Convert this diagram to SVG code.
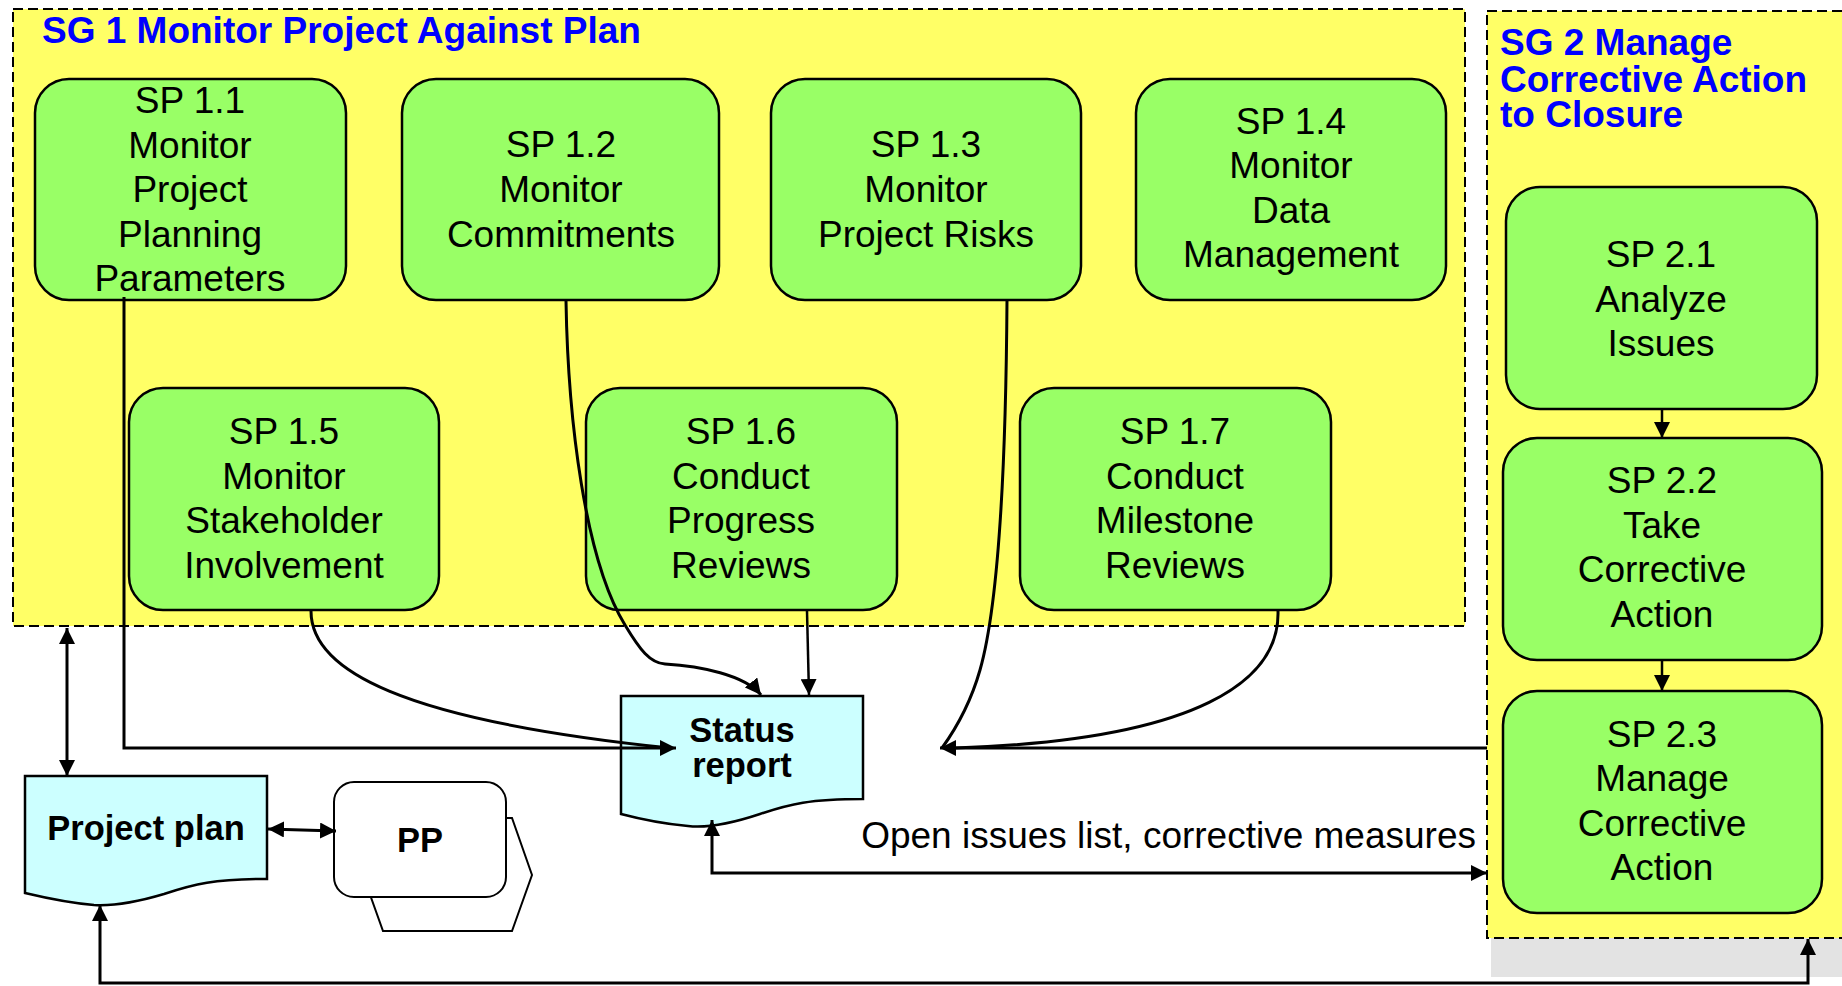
<svg xmlns="http://www.w3.org/2000/svg" width="1842" height="986" viewBox="0 0 1842 986">
  <style>
    .goal { fill: #FFFF66; stroke: #000; stroke-width: 2; stroke-dasharray: 10 5; }
    .goal-title { font-family: "Liberation Sans", Arial, sans-serif; font-weight: bold; font-size: 37px; fill: #0000FF; }
    .sp { fill: #99FF66; stroke: #000; stroke-width: 2.5; }
    .sp-text { font-family: "Liberation Sans", Arial, sans-serif; font-size: 37px; fill: #000; text-anchor: middle; }
    .doc { fill: #CCFFFF; stroke: #000; stroke-width: 2.5; }
    .doc-text { font-family: "Liberation Sans", Arial, sans-serif; font-weight: bold; font-size: 34.5px; fill: #000; text-anchor: middle; }
    .plain { fill: #FFFFFF; stroke: #000; stroke-width: 2; }
    .label { font-family: "Liberation Sans", Arial, sans-serif; font-size: 37px; fill: #000; }
    .conn { fill: none; stroke: #000; stroke-width: 3; }
    .conn-thin { fill: none; stroke: #000; stroke-width: 2.5; }
  </style>
  <defs>
    <marker id="ah" viewBox="0 0 16 16" refX="16" refY="8" markerWidth="16" markerHeight="16" markerUnits="userSpaceOnUse" orient="auto-start-reverse">
      <path d="M0,0 L16,8 L0,16 Z" fill="#000"/>
    </marker>
  </defs>

  <rect width="1842" height="986" fill="#FFFFFF"/>

  <!-- Goal 1 container -->
  <g id="sg1">
    <rect class="goal" x="13" y="9" width="1452" height="617"/>
    <text class="goal-title" x="42" y="43">SG 1 Monitor Project Against Plan</text>
  </g>

  <!-- Goal 2 container with its drop shadow -->
  <g id="sg2">
    <rect x="1491" y="938" width="351" height="39" fill="#E3E3E3"/>
    <rect class="goal" x="1487" y="11" width="370" height="927"/>
    <text class="goal-title" x="1500" y="55">SG 2 Manage</text>
    <text class="goal-title" x="1500" y="92">Corrective Action</text>
    <text class="goal-title" x="1500" y="127">to Closure</text>
  </g>

  <!-- Specific practices of goal 1 -->
  <g id="sp11">
    <rect class="sp" x="35" y="79" width="311" height="221" rx="34"/>
    <text class="sp-text" x="190" y="113">SP 1.1</text>
    <text class="sp-text" x="190" y="158">Monitor</text>
    <text class="sp-text" x="190" y="202">Project</text>
    <text class="sp-text" x="190" y="247">Planning</text>
    <text class="sp-text" x="190" y="291">Parameters</text>
  </g>
  <g id="sp12">
    <rect class="sp" x="402" y="79" width="317" height="221" rx="34"/>
    <text class="sp-text" x="561" y="157">SP 1.2</text>
    <text class="sp-text" x="561" y="202">Monitor</text>
    <text class="sp-text" x="561" y="247">Commitments</text>
  </g>
  <g id="sp13">
    <rect class="sp" x="771" y="79" width="310" height="221" rx="34"/>
    <text class="sp-text" x="926" y="157">SP 1.3</text>
    <text class="sp-text" x="926" y="202">Monitor</text>
    <text class="sp-text" x="926" y="247">Project Risks</text>
  </g>
  <g id="sp14">
    <rect class="sp" x="1136" y="79" width="310" height="221" rx="34"/>
    <text class="sp-text" x="1291" y="134">SP 1.4</text>
    <text class="sp-text" x="1291" y="178">Monitor</text>
    <text class="sp-text" x="1291" y="223">Data</text>
    <text class="sp-text" x="1291" y="267">Management</text>
  </g>
  <g id="sp15">
    <rect class="sp" x="129" y="388" width="310" height="222" rx="34"/>
    <text class="sp-text" x="284" y="444">SP 1.5</text>
    <text class="sp-text" x="284" y="489">Monitor</text>
    <text class="sp-text" x="284" y="533">Stakeholder</text>
    <text class="sp-text" x="284" y="578">Involvement</text>
  </g>
  <g id="sp16">
    <rect class="sp" x="586" y="388" width="311" height="222" rx="34"/>
    <text class="sp-text" x="741" y="444">SP 1.6</text>
    <text class="sp-text" x="741" y="489">Conduct</text>
    <text class="sp-text" x="741" y="533">Progress</text>
    <text class="sp-text" x="741" y="578">Reviews</text>
  </g>
  <g id="sp17">
    <rect class="sp" x="1020" y="388" width="311" height="222" rx="34"/>
    <text class="sp-text" x="1175" y="444">SP 1.7</text>
    <text class="sp-text" x="1175" y="489">Conduct</text>
    <text class="sp-text" x="1175" y="533">Milestone</text>
    <text class="sp-text" x="1175" y="578">Reviews</text>
  </g>

  <!-- Specific practices of goal 2 -->
  <g id="sp21">
    <rect class="sp" x="1506" y="187" width="311" height="222" rx="34"/>
    <text class="sp-text" x="1661" y="267">SP 2.1</text>
    <text class="sp-text" x="1661" y="312">Analyze</text>
    <text class="sp-text" x="1661" y="356">Issues</text>
  </g>
  <g id="sp22">
    <rect class="sp" x="1503" y="438" width="319" height="222" rx="34"/>
    <text class="sp-text" x="1662" y="493">SP 2.2</text>
    <text class="sp-text" x="1662" y="538">Take</text>
    <text class="sp-text" x="1662" y="582">Corrective</text>
    <text class="sp-text" x="1662" y="627">Action</text>
  </g>
  <g id="sp23">
    <rect class="sp" x="1503" y="691" width="319" height="222" rx="34"/>
    <text class="sp-text" x="1662" y="747">SP 2.3</text>
    <text class="sp-text" x="1662" y="791">Manage</text>
    <text class="sp-text" x="1662" y="836">Corrective</text>
    <text class="sp-text" x="1662" y="880">Action</text>
  </g>

  <!-- Work products -->
  <g id="status-report">
    <path class="doc" d="M621,696 H863 V799 C810,799 790,804 760,814 C730,824 705,828 688,826 C665,824 640,819 621,814 Z"/>
    <text class="doc-text" x="742" y="742">Status</text>
    <text class="doc-text" x="742" y="777">report</text>
  </g>
  <g id="project-plan">
    <path class="doc" d="M25,776 H267 V879 C214,879 194,884 164,894 C134,903 112,906 94,905 C70,903 46,898 25,893 Z"/>
    <text class="doc-text" x="146" y="840">Project plan</text>
  </g>
  <g id="pp">
    <path class="plain" d="M383,818 H512 L532,875 L512,931 H383 L363,875 Z"/>
    <rect class="plain" x="334" y="782" width="172" height="115" rx="20"/>
    <text class="doc-text" x="420" y="852">PP</text>
  </g>

  <!-- Connectors -->
  <g id="connectors">
    <!-- SG 1 <-> Project plan -->
    <line class="conn" x1="67" y1="628" x2="67" y2="776" marker-start="url(#ah)" marker-end="url(#ah)"/>
    <!-- Project plan <-> PP -->
    <line class="conn" x1="268" y1="829" x2="336" y2="831" marker-start="url(#ah)" marker-end="url(#ah)"/>
    <!-- SP 1.1 to status report -->
    <path class="conn" d="M124,297 V748 H676" marker-end="url(#ah)"/>
    <!-- SP 1.5 to status report -->
    <path class="conn" d="M311,611 C311,670 400,720 670,748"/>
    <!-- SP 1.2 to status report -->
    <path class="conn" d="M566,301 C568,420 585,560 625,625 C640,650 650,663 665,664 C700,666 745,675 761,695" marker-end="url(#ah)"/>
    <!-- SP 1.6 to status report -->
    <line class="conn-thin" x1="807" y1="611" x2="809" y2="695" marker-end="url(#ah)"/>
    <!-- SP 1.3, SP 1.7 and goal 2 feeding back into the report -->
    <path class="conn" d="M1007,300 C1006,450 1000,600 980,670 C970,705 955,730 942,748"/>
    <path class="conn" d="M1278,611 C1280,680 1200,740 955,748"/>
    <line class="conn" x1="1487" y1="748" x2="940" y2="748" marker-end="url(#ah)"/>
    <!-- Status report to goal 2: open issues -->
    <path class="conn" d="M1487,873 H712 V820" marker-start="url(#ah)" marker-end="url(#ah)"/>
    <text class="label" x="1476" y="848" text-anchor="end">Open issues list, corrective measures</text>
    <!-- Goal 2 back to project plan -->
    <path class="conn" d="M1808,939 V983 H100 V905" marker-start="url(#ah)" marker-end="url(#ah)"/>
    <!-- Within goal 2 -->
    <line class="conn-thin" x1="1662" y1="409" x2="1662" y2="438" marker-end="url(#ah)"/>
    <line class="conn-thin" x1="1662" y1="660" x2="1662" y2="691" marker-end="url(#ah)"/>
  </g>
</svg>
